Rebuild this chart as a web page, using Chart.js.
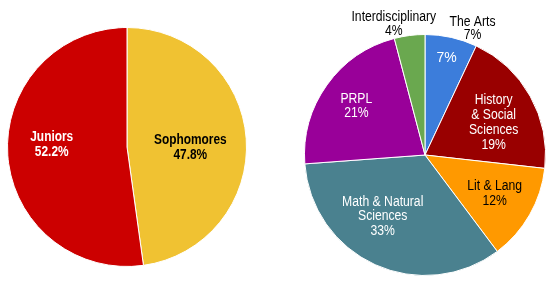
<!DOCTYPE html>
<html>
<head>
<meta charset="utf-8">
<script src="https://cdn.jsdelivr.net/npm/chart.js@4/dist/chart.umd.min.js"></script>
<style>
  body { margin: 0; background: #fff; }
  #wrap { position: relative; width: 554px; height: 292px; }
  #left { position: absolute; left: 0; top: 0; }
  #right { position: absolute; left: 300px; top: 0; }
</style>
</head>
<body>
<div id="wrap">
  <canvas id="left" width="277" height="292"></canvas>
  <canvas id="right" width="254" height="292"></canvas>
</div>
<script>
// left pie : class year
const classLabels = ['Sophomores', 'Juniors'];
const classValues = [47.8, 52.2];
const classText = ['47.8%', '52.2%'];
const classColors = ['#F0C232', '#CC0000'];

// right pie : areas (slice sizes, labels as printed)
const areaLabels = ['The Arts', 'History & Social Sciences', 'Lit & Lang', 'Math & Natural Sciences', 'PRPL', 'Interdisciplinary'];
const areaValues = [7, 19.8, 13, 34.1, 22.1, 4.1];
const areaText = ['7%', '19%', '12%', '33%', '21%', '4%'];
const areaColors = ['#3C7DDB', '#990000', '#FF9900', '#4A818F', '#990099', '#6AA84F'];

// texte des étiquettes : une entrée par part (sx = compression horizontale, police étroite)
const leftFont = 'bold 14px "Liberation Sans", Arial, sans-serif';
const rightFont = '14px "Liberation Sans", Arial, sans-serif';
const leftLabelSpec = [
    { lines: ['Sophomores', classText[0]], color: '#000', font: leftFont, sx: 0.85, r: 0.53, da: 4.5, lh: 15 },
    { lines: ['Juniors', classText[1]], color: '#fff', font: leftFont, sx: 0.85, r: 0.63, da: 5.5, lh: 15 }
];
const rightLabelSpec = [
    [
        { lines: ['7%'], color: '#fff', font: rightFont, sx: 1, r: 0.82, da: 0, lh: 15 },
        { lines: ['The Arts', areaText[0]], color: '#000', font: rightFont, sx: 0.87, r: 1.12, da: 8, lh: 13 }
    ],
    [{ lines: ['History', '& Social', 'Sciences', areaText[1]], color: '#fff', font: rightFont, sx: 0.87, r: 0.63, da: 4, lh: 14.7 }],
    [{ lines: ['Lit & Lang', areaText[2]], color: '#000', font: rightFont, sx: 0.87, r: 0.66, da: -1, lh: 15 }],
    [{ lines: ['Math & Natural', 'Sciences', areaText[3]], color: '#fff', font: rightFont, sx: 0.87, r: 0.62, da: 10, lh: 14.7 }],
    [{ lines: ['PRPL', areaText[4]], color: '#fff', font: rightFont, sx: 0.87, r: 0.70, da: 0, lh: 14 }],
    [{ lines: ['Interdisciplinary', areaText[5]], color: '#000', font: rightFont, sx: 0.87, r: 1.12, da: -6, lh: 14 }]
];

// plugin pour écrire les étiquettes sur les parts
const sliceLabels = {
    id: 'sliceLabels',
    afterDatasetsDraw(chart, args, opts) {
        const ctx = chart.ctx;
        const arcs = chart.getDatasetMeta(0).data;
        arcs.forEach((arc, i) => {
            const specs = [].concat(opts.spec[i] || []);
            const p = arc.getProps(['x', 'y', 'startAngle', 'endAngle', 'outerRadius'], true);
            specs.forEach(s => {
                const a = (p.startAngle + p.endAngle) / 2 + s.da * Math.PI / 180;
                const cx = p.x + Math.cos(a) * p.outerRadius * s.r;
                const cy = p.y + Math.sin(a) * p.outerRadius * s.r;
                ctx.save();
                ctx.translate(cx, cy);
                ctx.scale(s.sx, 1);
                ctx.font = s.font;
                ctx.fillStyle = s.color;
                ctx.textAlign = 'center';
                ctx.textBaseline = 'middle';
                const top = -(s.lines.length - 1) * s.lh / 2;
                s.lines.forEach((t, k) => ctx.fillText(t, 0, top + k * s.lh));
                ctx.restore();
            });
        });
    }
};

function makePie(id, labels, values, colors, padding, spec) {
    return new Chart(document.getElementById(id), {
        type: 'pie',
        data: {
            labels: labels,
            datasets: [{
                data: values,
                backgroundColor: colors,
                borderColor: '#fff',
                borderWidth: 1
            }]
        },
        options: {
            responsive: false,
            animation: false,
            layout: { padding: padding },
            plugins: {
                legend: { display: false },
                tooltip: { enabled: false },
                sliceLabels: { spec: spec }
            }
        },
        plugins: [sliceLabels]
    });
}

makePie('left', classLabels, classValues, classColors, { left: 7, top: 27, right: 30, bottom: 25 }, leftLabelSpec);
makePie('right', areaLabels, areaValues, areaColors, { left: 4, top: 34, right: 8, bottom: 16 }, rightLabelSpec);
</script>
</body>
</html>
